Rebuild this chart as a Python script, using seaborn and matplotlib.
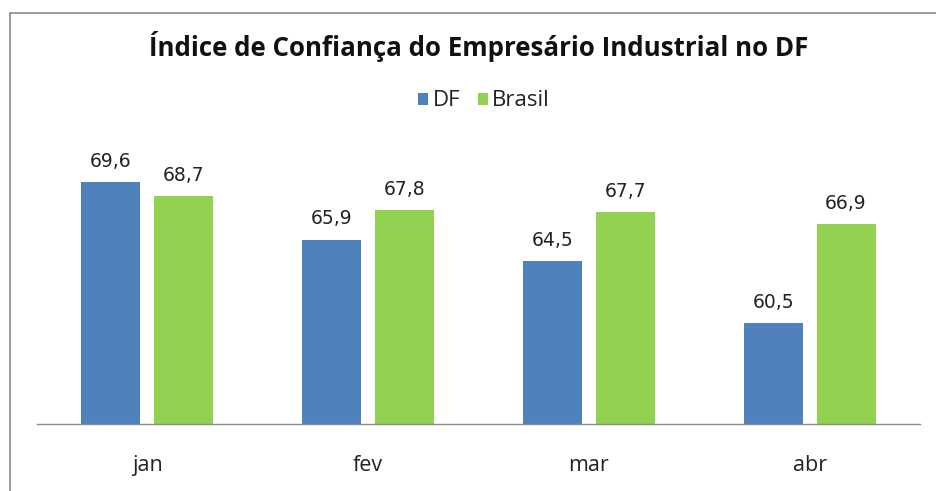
import matplotlib
matplotlib.use("Agg")
import matplotlib.pyplot as plt
import seaborn as sns
import pandas as pd
from matplotlib.lines import Line2D
from matplotlib.patches import Patch

months = ["jan", "fev", "mar", "abr"]
df_values = [69.6, 65.9, 64.5, 60.5]
brasil_values = [68.7, 67.8, 67.7, 66.9]
series = ["DF", "Brasil"]
colors = ["#4F81BD", "#92D050"]
title = "Índice de Confiança do Empresário Industrial no DF"

data = pd.DataFrame({
    "mes": months * 2,
    "valor": df_values + brasil_values,
    "serie": [series[0]] * 4 + [series[1]] * 4,
})

sns.set_theme(style="white")
plt.rcParams["font.family"] = ["Open Sans", "DejaVu Sans"]

W, H = 937, 491
fig = plt.figure(figsize=(W / 100, H / 100), dpi=100)
ax = fig.add_axes([37 / W, 67 / H, (920 - 37) / W, (424 - 145) / H])

sns.barplot(data=data, x="mes", y="valor", hue="serie", palette=colors,
            width=0.66, gap=0.19, ax=ax, legend=False, saturation=1, linewidth=0)

ax.set_ylim(54, 72)
ax.set_xlim(-0.5, 3.5)
ax.set_xlabel("")
ax.set_ylabel("")
ax.set_yticks([])
for s in ["top", "right", "left"]:
    ax.spines[s].set_visible(False)
ax.spines["bottom"].set_color("#8c8c8c")
ax.spines["bottom"].set_linewidth(1.0)
ax.tick_params(axis="x", length=0, pad=22, labelsize=15.5, colors="#222222")

for cont in ax.containers:
    ax.bar_label(cont, labels=[f"{v:.1f}".replace(".", ",") for v in cont.datavalues],
                 padding=8, fontsize=13.5, color="#222222", family="DejaVu Sans")

fig.text(479 / W, 1 - 47 / H, title, ha="center", va="center",
         fontsize=18.6, fontweight="bold", color="#111111")

handles = [Patch(facecolor=c, edgecolor="none") for c in colors]
fig.legend(handles, series, loc="center", bbox_to_anchor=(484 / W, 1 - 101 / H),
           ncol=2, frameon=False, fontsize=16, handlelength=0.45, handleheight=0.45,
           columnspacing=0.8, handletextpad=0.2, labelcolor="#222222")

# outer frame (cropped at right and bottom)
fig.add_artist(Line2D([10 / W, 10 / W], [0, 1 - 13 / H], transform=fig.transFigure,
                      color="#8a8a8a", lw=1.2))
fig.add_artist(Line2D([10 / W, 1], [1 - 13 / H, 1 - 13 / H], transform=fig.transFigure,
                      color="#8a8a8a", lw=1.2))

fig.savefig("out.png", dpi=100)
